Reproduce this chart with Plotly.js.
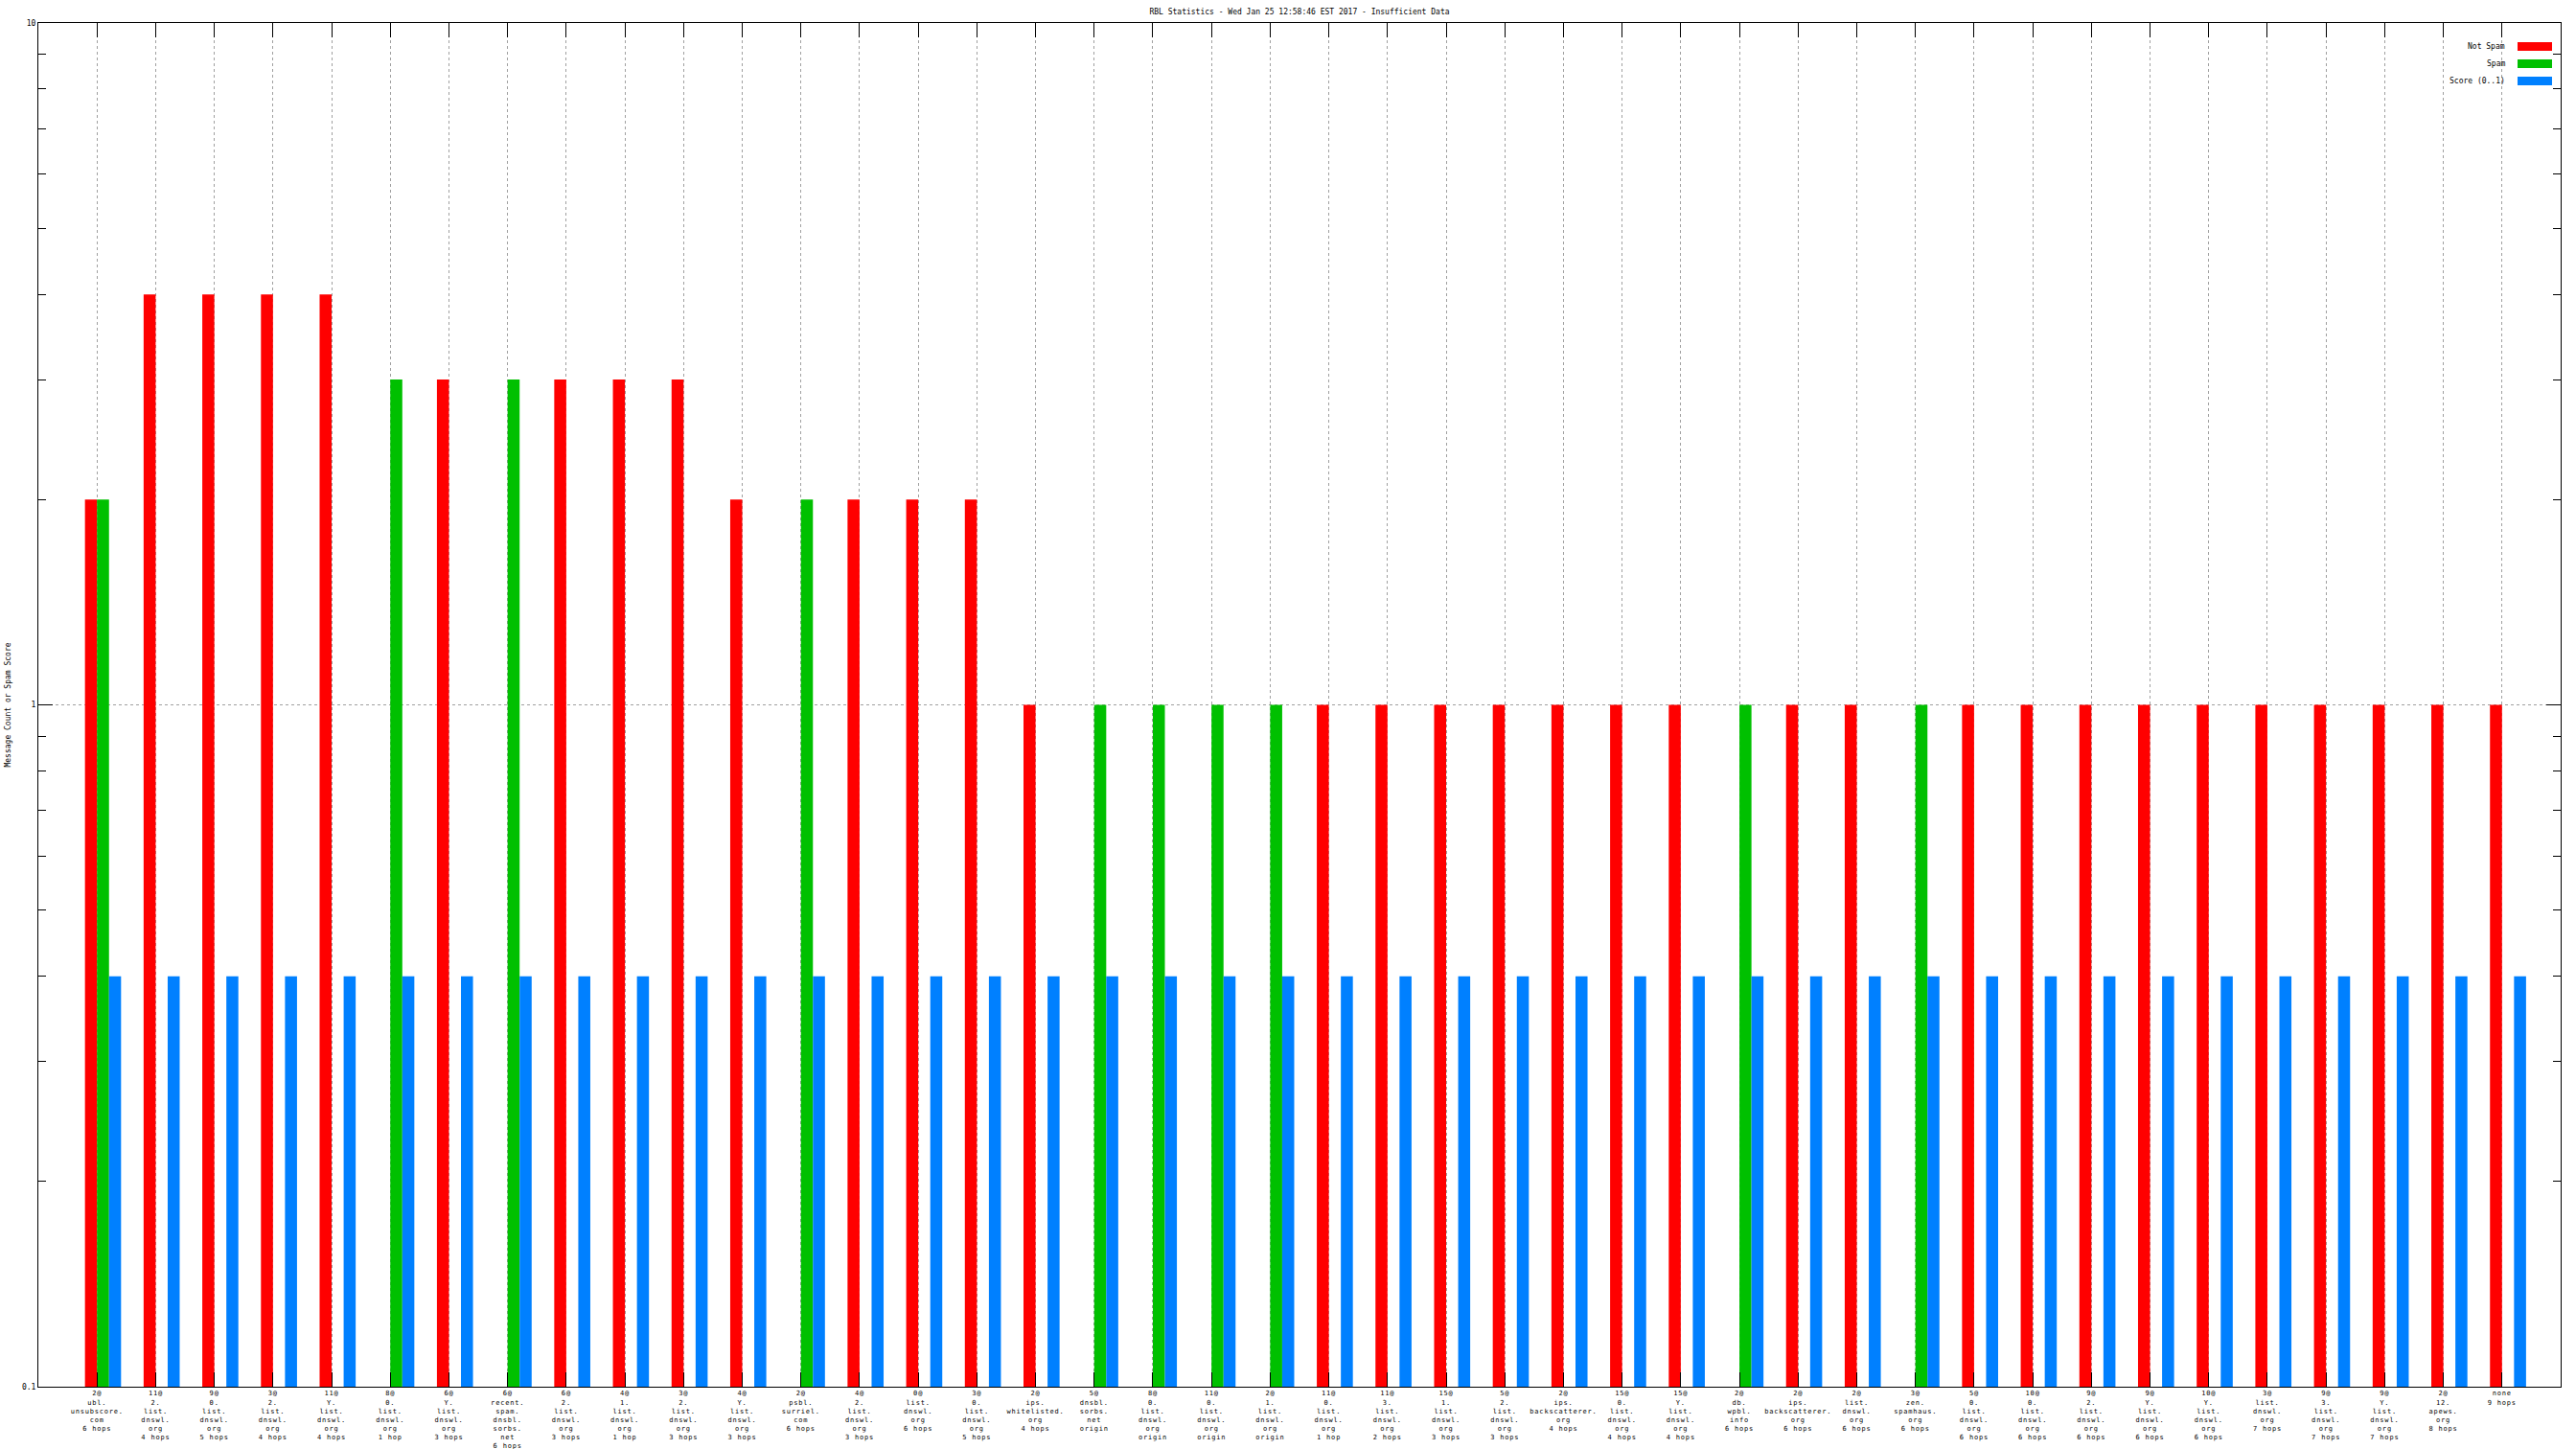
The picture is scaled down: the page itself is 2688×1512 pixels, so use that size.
<!DOCTYPE html>
<html>
<head>
<meta charset="utf-8">
<script src="https://cdn.plot.ly/plotly-3.0.1.min.js"></script>
<style>
  html, body { margin: 0; padding: 0; background: #ffffff; }
  #chart { width: 2688px; height: 1512px; }
  #chart .xtick text { letter-spacing: 0.8px; }
</style>
</head>
<body>
<div id="chart"></div>
<script>
// ---- data ----
const titleText = "RBL Statistics - Wed Jan 25 12:58:46 EST 2017 - Insufficient Data";
const yTitle = "Message Count or Spam Score";
const seriesNames = ["Not Spam", "Spam", "Score (0..1)"];
const seriesColors = ["#ff0000", "#00c000", "#0080ff"];

const categories = [
  "2@<br>ubl.<br>unsubscore.<br>com<br>6 hops",
  "11@<br>2.<br>list.<br>dnswl.<br>org<br>4 hops",
  "9@<br>0.<br>list.<br>dnswl.<br>org<br>5 hops",
  "3@<br>2.<br>list.<br>dnswl.<br>org<br>4 hops",
  "11@<br>Y.<br>list.<br>dnswl.<br>org<br>4 hops",
  "8@<br>0.<br>list.<br>dnswl.<br>org<br>1 hop",
  "6@<br>Y.<br>list.<br>dnswl.<br>org<br>3 hops",
  "6@<br>recent.<br>spam.<br>dnsbl.<br>sorbs.<br>net<br>6 hops",
  "6@<br>2.<br>list.<br>dnswl.<br>org<br>3 hops",
  "4@<br>1.<br>list.<br>dnswl.<br>org<br>1 hop",
  "3@<br>2.<br>list.<br>dnswl.<br>org<br>3 hops",
  "4@<br>Y.<br>list.<br>dnswl.<br>org<br>3 hops",
  "2@<br>psbl.<br>surriel.<br>com<br>6 hops",
  "4@<br>2.<br>list.<br>dnswl.<br>org<br>3 hops",
  "0@<br>list.<br>dnswl.<br>org<br>6 hops",
  "3@<br>0.<br>list.<br>dnswl.<br>org<br>5 hops",
  "2@<br>ips.<br>whitelisted.<br>org<br>4 hops",
  "5@<br>dnsbl.<br>sorbs.<br>net<br>origin",
  "8@<br>0.<br>list.<br>dnswl.<br>org<br>origin",
  "11@<br>0.<br>list.<br>dnswl.<br>org<br>origin",
  "2@<br>1.<br>list.<br>dnswl.<br>org<br>origin",
  "11@<br>0.<br>list.<br>dnswl.<br>org<br>1 hop",
  "11@<br>3.<br>list.<br>dnswl.<br>org<br>2 hops",
  "15@<br>1.<br>list.<br>dnswl.<br>org<br>3 hops",
  "5@<br>2.<br>list.<br>dnswl.<br>org<br>3 hops",
  "2@<br>ips.<br>backscatterer.<br>org<br>4 hops",
  "15@<br>0.<br>list.<br>dnswl.<br>org<br>4 hops",
  "15@<br>Y.<br>list.<br>dnswl.<br>org<br>4 hops",
  "2@<br>db.<br>wpbl.<br>info<br>6 hops",
  "2@<br>ips.<br>backscatterer.<br>org<br>6 hops",
  "2@<br>list.<br>dnswl.<br>org<br>6 hops",
  "3@<br>zen.<br>spamhaus.<br>org<br>6 hops",
  "5@<br>0.<br>list.<br>dnswl.<br>org<br>6 hops",
  "10@<br>0.<br>list.<br>dnswl.<br>org<br>6 hops",
  "9@<br>2.<br>list.<br>dnswl.<br>org<br>6 hops",
  "9@<br>Y.<br>list.<br>dnswl.<br>org<br>6 hops",
  "10@<br>Y.<br>list.<br>dnswl.<br>org<br>6 hops",
  "3@<br>list.<br>dnswl.<br>org<br>7 hops",
  "9@<br>3.<br>list.<br>dnswl.<br>org<br>7 hops",
  "9@<br>Y.<br>list.<br>dnswl.<br>org<br>7 hops",
  "2@<br>12.<br>apews.<br>org<br>8 hops",
  "none<br>9 hops"
];

const notSpam = [2,4,4,4,4,0,3,0,3,3,3,2,0,2,2,2,1,0,0,0,0,1,1,1,1,1,1,1,0,1,1,0,1,1,1,1,1,1,1,1,1,1];
const spam    = [2,0,0,0,0,3,0,3,0,0,0,0,2,0,0,0,0,1,1,1,1,0,0,0,0,0,0,0,1,0,0,1,0,0,0,0,0,0,0,0,0,0];
const score   = [0.4,0.4,0.4,0.4,0.4,0.4,0.4,0.4,0.4,0.4,0.4,0.4,0.4,0.4,0.4,0.4,0.4,0.4,0.4,0.4,0.4,
                 0.4,0.4,0.4,0.4,0.4,0.4,0.4,0.4,0.4,0.4,0.4,0.4,0.4,0.4,0.4,0.4,0.4,0.4,0.4,0.4,0.4];

const yMajorVals = [0.1, 1, 10];
const yMajorText = ["0.1", "1", "10"];
const yMinorVals = [0.2,0.3,0.4,0.5,0.6,0.7,0.8,0.9,2,3,4,5,6,7,8,9];

// ---- styling / layout ----
const FONT = "DejaVu Sans Mono";
const TXT = {family: FONT, size: 8, color: "#000"};
const W = 2688, H = 1512;
const M = {l: 40, r: 16, t: 24, b: 65};
const plotW = W - M.l - M.r, plotH = H - M.t - M.b;
const px2x = p => (p - M.l) / plotW;
const px2y = p => (H - M.b - p) / plotH;

const idx = categories.map((_, i) => i);
const barW = 0.205;
const allSeries = [notSpam, spam, score];
const offsets = [-barW, 0, barW];

const traces = allSeries.map((vals, k) => ({
  type: "bar",
  name: seriesNames[k],
  x: idx,
  y: vals.map(v => (v > 0 ? v : null)),
  width: barW,
  offset: offsets[k],
  marker: {color: seriesColors[k], line: {width: 0}},
  showlegend: false,
  hoverinfo: "x+y+name"
}));

// custom legend like gnuplot: right-aligned text with swatch on the right
const legendRowsPx = [48.5, 66.5, 84.5];
const shapes = [], annotations = [];
seriesNames.forEach((nm, k) => {
  const yc = legendRowsPx[k];
  shapes.push({
    type: "rect", xref: "paper", yref: "paper",
    x0: px2x(2627), x1: px2x(2663), y0: px2y(yc + 4.6), y1: px2y(yc - 4.6),
    fillcolor: seriesColors[k], line: {width: 0}
  });
  annotations.push({
    xref: "paper", yref: "paper", x: px2x(2616), y: px2y(yc),
    xanchor: "right", yanchor: "middle", showarrow: false,
    text: nm, font: TXT
  });
});

const layout = {
  width: W, height: H,
  margin: {l: M.l, r: M.r, t: M.t, b: M.b, pad: 0},
  paper_bgcolor: "#ffffff", plot_bgcolor: "#ffffff",
  barmode: "overlay",
  showlegend: false,
  title: {
    text: titleText, x: (M.l + plotW / 2) / W, xanchor: "center",
    y: 1 - 12 / H, yref: "container", yanchor: "middle",
    font: TXT
  },
  xaxis: {
    range: [-1, categories.length],
    tickmode: "array", tickvals: idx, ticktext: categories,
    tickangle: 0,
    ticks: "inside", ticklen: 15, tickwidth: 1, tickcolor: "#000",
    showline: true, linecolor: "#000", linewidth: 1, mirror: "ticks",
    showgrid: true, gridcolor: "#a0a0a0", griddash: "dot", gridwidth: 1,
    zeroline: false, fixedrange: true,
    tickfont: {family: FONT, size: 7, color: "#000"}
  },
  yaxis: {
    type: "log", range: [-1, 1],
    tickmode: "array", tickvals: yMajorVals, ticktext: yMajorText,
    ticks: "inside", ticklen: 15, tickwidth: 1, tickcolor: "#000",
    showline: true, linecolor: "#000", linewidth: 1, mirror: "ticks",
    showgrid: true, gridcolor: "#a0a0a0", griddash: "dot", gridwidth: 1,
    zeroline: false, fixedrange: true,
    minor: {tickmode: "array", tickvals: yMinorVals, ticks: "inside", ticklen: 8,
            tickwidth: 1, tickcolor: "#000", showgrid: false},
    tickfont: TXT,
    title: {text: yTitle, standoff: 10, font: TXT}
  },
  shapes: shapes,
  annotations: annotations
};

Plotly.newPlot("chart", traces, layout, {displayModeBar: false, staticPlot: true});
</script>
</body>
</html>
